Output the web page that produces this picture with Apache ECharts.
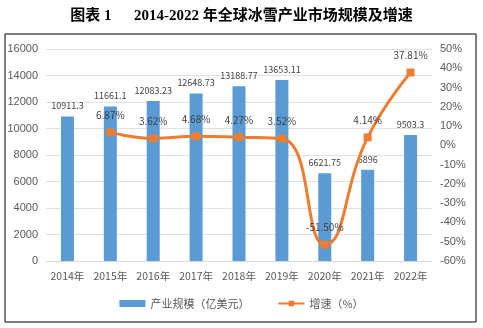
<!DOCTYPE html>
<html><head><meta charset="utf-8">
<script src="https://cdn.jsdelivr.net/npm/echarts@6/dist/echarts.min.js"></script>
<style>html,body{margin:0;padding:0;background:#fff}#c{width:483px;height:328px}</style>
</head><body><div id="c"></div>
<script>
var categories = ['2014年','2015年','2016年','2017年','2018年','2019年','2020年','2021年','2022年'];
var scaleValues = [10911.3, 11661.1, 12083.23, 12648.73, 13188.77, 13653.11, 6621.75, 6896, 9503.3];
var growthValues = [null, 6.87, 3.62, 4.68, 4.27, 3.52, -51.50, 4.14, 37.81];
var leftTicks = [0, 16000, 2000];
var rightTicks = [-60, 50, 10];

var chart = echarts.init(document.getElementById('c'));
var axisText = {color:'#595959', fontSize:11, fontFamily:'"Liberation Sans", sans-serif'};
chart.setOption({
  animation:false,
  title:{text:'图表 1      2014-2022 年全球冰雪产业市场规模及增速', left:'center', top:4,
    textStyle:{fontSize:15, fontWeight:'bold', color:'#000', fontFamily:'Liberation Serif, "Noto Sans CJK SC", serif'}},
  graphic:[{type:'rect', shape:{x:5, y:34, width:471, height:288}, style:{fill:'none', stroke:'#000', lineWidth:1}}],
  legend:{bottom:14, left:'center', itemGap:28, itemWidth:26, itemHeight:7,
    textStyle:{color:'#595959', fontSize:11, fontFamily:'"Noto Sans CJK SC", sans-serif'},
    data:[{name:'产业规模（亿美元）', icon:'rect'},{name:'增速（%）'}]},
  grid:{left:46, right:51, top:49, bottom:67},
  xAxis:{type:'category', data:categories, axisTick:{show:false},
    axisLine:{lineStyle:{color:'#d9d9d9'}},
    axisLabel:{interval:0, color:'#595959', fontSize:10.5, fontFamily:'"Noto Sans CJK SC", sans-serif', margin:10}},
  yAxis:[
    {type:'value', min:leftTicks[0], max:leftTicks[1], interval:leftTicks[2],
     axisLabel:Object.assign({formatter:function(v){return String(v);}}, axisText),
     splitLine:{lineStyle:{color:'#e0e0e0'}}, axisLine:{show:false}, axisTick:{show:false}},
    {type:'value', min:rightTicks[0], max:rightTicks[1], interval:rightTicks[2],
     axisLabel:Object.assign({formatter:'{value}%'}, axisText), splitLine:{show:false}, axisLine:{show:false}, axisTick:{show:false}}
  ],
  series:[
    {name:'产业规模（亿美元）', type:'bar', data:scaleValues, barWidth:13,
     itemStyle:{color:'#5B9BD5'},
     label:{show:true, position:'top', distance:6, color:'#404040', fontSize:9, fontFamily:'"Noto Sans CJK SC", monospace'}},
    {name:'增速（%）', type:'line', yAxisIndex:1, data:growthValues, smooth:true,
     symbol:'rect', symbolSize:8, lineStyle:{color:'#ED7D31', width:3}, itemStyle:{color:'#ED7D31'},
     label:{show:true, position:'top', distance:8, color:'#404040', fontSize:10, fontFamily:'"Noto Sans CJK SC", monospace',
       formatter:function(p){return p.value.toFixed(2)+'%';}}}
  ]
});
</script></body></html>
